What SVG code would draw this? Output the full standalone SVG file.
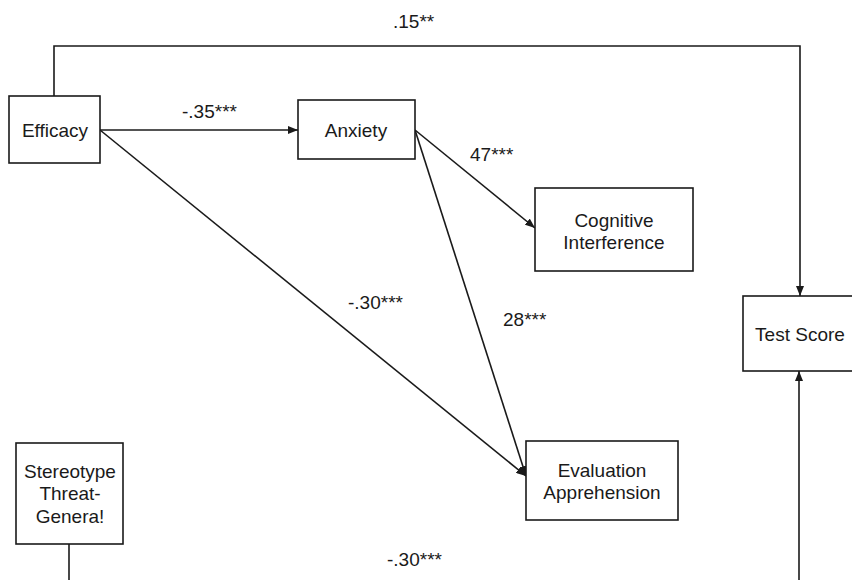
<svg xmlns="http://www.w3.org/2000/svg" width="852" height="580" viewBox="0 0 852 580">
<style>
  .box { fill: #ffffff; stroke: #1a1a1a; stroke-width: 1.6; }
  .lbl { font-family: "Liberation Sans", Arial, sans-serif; font-size: 19px; fill: #1a1a1a; }
  .mid { text-anchor: middle; }
  .edge { fill: none; stroke: #1a1a1a; stroke-width: 1.6; }
</style>
<defs>
  <marker id="arr" markerUnits="userSpaceOnUse" markerWidth="10" markerHeight="8" refX="10" refY="4" orient="auto">
    <path d="M0,0 L10,4 L0,8 Z" fill="#1a1a1a"/>
  </marker>
</defs>
<rect width="852" height="580" fill="#ffffff"/>

<g id="connectors">
  <path class="edge" d="M54,96 L54,46 L800,46 L800,296" marker-end="url(#arr)"/>
  <line class="edge" x1="100" y1="130" x2="298" y2="130" marker-end="url(#arr)"/>
  <line class="edge" x1="415" y1="130" x2="535" y2="228" marker-end="url(#arr)"/>
  <line class="edge" x1="100" y1="130" x2="526" y2="476" marker-end="url(#arr)"/>
  <line class="edge" x1="415" y1="130" x2="526" y2="476" marker-end="url(#arr)"/>
  <line class="edge" x1="799" y1="580" x2="799" y2="371" marker-end="url(#arr)"/>
  <line class="edge" x1="69" y1="544" x2="69" y2="580"/>
  <text class="lbl" x="393" y="28">.15**</text>
  <text class="lbl" x="182" y="118">-.35***</text>
  <text class="lbl" x="470" y="161">47***</text>
  <text class="lbl" x="348" y="309">-.30***</text>
  <text class="lbl" x="503" y="326">28***</text>
  <text class="lbl" x="387" y="566">-.30***</text>
</g>

<g id="efficacy">
  <rect class="box" x="9" y="96" width="91" height="67"/>
  <text class="lbl mid" x="55" y="137">Efficacy</text>
</g>

<g id="anxiety">
  <rect class="box" x="298" y="100" width="117" height="59"/>
  <text class="lbl mid" x="356" y="137">Anxiety</text>
</g>

<g id="cognitive-interference">
  <rect class="box" x="535" y="188" width="158" height="83"/>
  <text class="lbl mid" x="614" y="227">Cognitive</text>
  <text class="lbl mid" x="614" y="249">Interference</text>
</g>

<g id="test-score">
  <rect class="box" x="743" y="296" width="130" height="75"/>
  <text class="lbl mid" x="800" y="341">Test Score</text>
</g>

<g id="evaluation-apprehension">
  <rect class="box" x="526" y="441" width="152" height="79"/>
  <text class="lbl mid" x="602" y="477">Evaluation</text>
  <text class="lbl mid" x="602" y="499">Apprehension</text>
</g>

<g id="stereotype-threat-general">
  <rect class="box" x="16" y="443" width="107" height="101"/>
  <text class="lbl mid" x="70" y="478">Stereotype</text>
  <text class="lbl mid" x="70" y="500">Threat-</text>
  <text class="lbl mid" x="70" y="523">Genera!</text>
</g>
</svg>
